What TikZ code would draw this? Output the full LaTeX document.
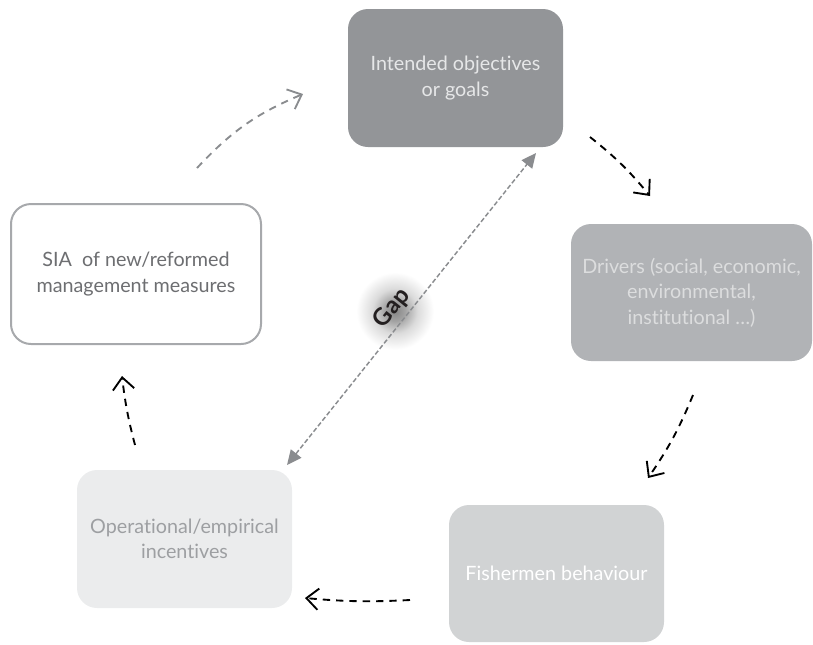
\documentclass[tikz,border=0pt]{standalone}
\usepackage{fontspec}
\setmainfont{Lato}[Ligatures={NoCommon}]
\usetikzlibrary{arrows.meta,shadings}
\definecolor{boxA}{HTML}{939598}
\definecolor{boxB}{HTML}{B1B3B6}
\definecolor{boxC}{HTML}{EBECED}
\definecolor{boxD}{HTML}{D1D3D4}
\definecolor{edgeSIA}{HTML}{A7A9AC}
\definecolor{txtSIA}{HTML}{6D6E71}
\definecolor{txtOp}{HTML}{9D9FA2}
\definecolor{txtLight}{HTML}{E6E7E8}
\definecolor{txtDrv}{HTML}{DCDDDE}
\definecolor{gapcol}{HTML}{8A8C8F}
\definecolor{darktxt}{HTML}{231F20}
\pgfdeclareradialshading{gapglow}{\pgfpoint{0bp}{0bp}}{color(0bp)=(black!48); color(5bp)=(black!36); color(11bp)=(black!14); color(19bp)=(white); color(50bp)=(white)}
\tikzset{
  stagebox/.style={rounded corners=15pt, align=center, inner sep=0pt, font=\fontsize{14.8}{19}\selectfont},
  cyc/.style={line width=1.4pt, dash pattern=on 5.5pt off 4.5pt, -{Straight Barb[length=9pt,width=16pt,line width=1.4pt]}},
  gaparrow/.style={gapcol, line width=1.1pt, dash pattern=on 3.5pt off 1.8pt, {Triangle[length=11pt,width=10pt]}-{Triangle[length=11pt,width=10pt]}}
}
\begin{document}
\begin{tikzpicture}[x=0.75pt,y=-0.75pt]
\useasboundingbox (0,0) rectangle (813,644);
\node[stagebox, fill=boxA, text=txtLight, minimum width=161.25pt, minimum height=103.5pt] (goal) at (455.5,78) {Intended objectives\\or goals};
\node[stagebox, fill=boxB, text=txtDrv, minimum width=180.75pt, minimum height=102.75pt] (drv) at (691.5,292.5) {Drivers (social, economic,\\environmental,\\institutional …)};
\node[stagebox, fill=white, draw=edgeSIA, line width=1.5pt, text=txtSIA, minimum width=187.5pt, minimum height=105pt] (sia) at (136,274) {SIA~ of new/reformed\\management measures};
\node[stagebox, fill=boxC, text=txtOp, minimum width=161.25pt, minimum height=103.5pt] (op) at (184.5,539) {Operational/empirical\\incentives};
\node[stagebox, fill=boxD, text=white, minimum width=161.25pt, minimum height=102.75pt] (fish) at (556.5,573.5) {Fishermen behaviour};

\coordinate (a1) at (197,168); \coordinate (a2) at (303,94);
\coordinate (b1) at (590,137); \coordinate (b2) at (650,196);
\coordinate (c1) at (693,395); \coordinate (c2) at (648,478);
\coordinate (d1) at (410,600); \coordinate (d2) at (305,598);
\coordinate (e1) at (135,445); \coordinate (e2) at (122,376);
\coordinate (g1) at (536,153); \coordinate (g2) at (287,465);

\draw[cyc, gapcol] (a1) to[bend left=12] (a2);
\draw[cyc, black] (b1) to[bend left=6] (b2);
\draw[cyc, black] (c1) to[bend left=6] (c2);
\draw[cyc, black] (d1) to[bend left=4] (d2);
\draw[cyc, black] (e1) to[bend left=4] (e2);

\shade[shading=gapglow] (344,260) rectangle (446,362);
\draw[gaparrow] (g2) -- (g1);
\node[font=\bfseries\fontsize{18}{20}\selectfont, text=darktxt, rotate=51] (gap) at (392,308) {Gap};
\end{tikzpicture}
\end{document}
